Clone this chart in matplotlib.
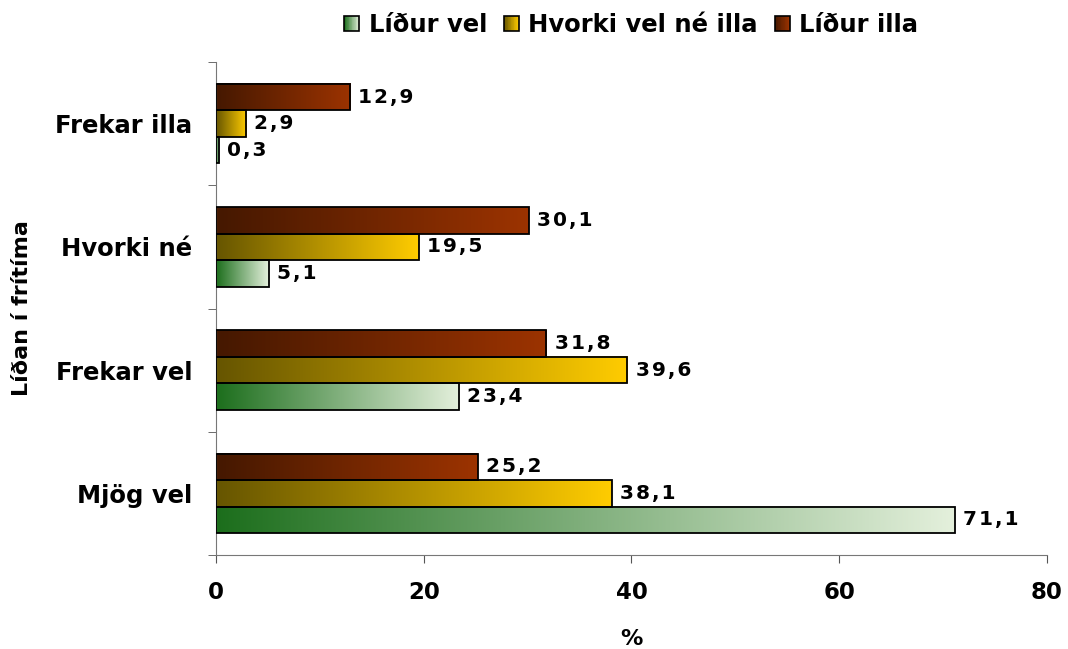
import numpy as np
import matplotlib
matplotlib.use('Agg')
import matplotlib.pyplot as plt
from matplotlib.colors import LinearSegmentedColormap
from matplotlib.patches import Rectangle
from matplotlib.legend_handler import HandlerBase

categories = ['Mjög vel', 'Frekar vel', 'Hvorki né', 'Frekar illa']
series_names = ['Líður vel', 'Hvorki vel né illa', 'Líður illa']
lidur_vel = [71.1, 23.4, 5.1, 0.3]
hvorki = [38.1, 39.6, 19.5, 2.9]
lidur_illa = [25.2, 31.8, 30.1, 12.9]

gradients = [('#1c6e1c', '#e4f0dc'), ('#665500', '#ffcc00'), ('#451800', '#9c3300')]
cmaps = [LinearSegmentedColormap.from_list('g%d' % i, g) for i, g in enumerate(gradients)]


def gradient_bar(ax, x0, width, y0, height, cmap):
  grad = np.linspace(0, 1, 256).reshape(1, -1)
  ax.imshow(grad, cmap=cmap, aspect='auto', extent=[x0, x0 + width, y0, y0 + height],
            origin='lower', zorder=2, interpolation='bilinear')
  ax.add_patch(Rectangle((x0, y0), width, height, fill=False, edgecolor='black', lw=1.3, zorder=3))


def fmt(v):
  # comma decimal, spaced out a little like the original
  return '\u200a'.join(('%.1f' % v).replace('.', ','))


class GradientHandler(HandlerBase):
  def __init__(self, cmap):
    super().__init__()
    self.cmap = cmap

  def create_artists(self, legend, orig_handle, xdescent, ydescent, width, height, fontsize, trans):
    arts = []
    size = height * 0.9
    x0 = -xdescent + (width - size) / 2
    y0 = -ydescent + (height - size) / 2
    n = 20
    for i in range(n):
      r = Rectangle((x0 + i * size / n, y0), size / n + 0.05, size, facecolor=self.cmap(i / (n - 1)),
                    edgecolor='none', transform=trans)
      arts.append(r)
    arts.append(Rectangle((x0, y0), size, size, fill=False, edgecolor='black', lw=1.2, transform=trans))
    return arts


fig = plt.figure(figsize=(10.68, 6.49), dpi=100)
ax = fig.add_axes([0.2022, 0.1448, 0.7781, 0.7597])

bar_h = 0.215
all_series = [lidur_vel, hvorki, lidur_illa]
offsets = [-bar_h, 0, bar_h]
for s, vals in enumerate(all_series):
  for i, v in enumerate(vals):
    yc = i + offsets[s]
    gradient_bar(ax, 0, v, yc - bar_h / 2, bar_h, cmaps[s])
    ax.text(v + 0.8, yc, fmt(v), va='center', ha='left', fontsize=14.5, fontweight='bold')

ax.set_xlim(0, 80)
ax.set_ylim(-0.5, 3.5)
ax.set_xticks([0, 20, 40, 60, 80])
ax.set_xticklabels(['0', '20', '40', '60', '80'], fontsize=16.5, fontweight='bold')
ax.set_yticks(range(len(categories)))
ax.set_yticklabels(categories, fontsize=17.5, fontweight='bold')
ax.set_yticks(np.arange(-0.5, 4, 1), minor=True)
ax.tick_params(axis='y', which='major', length=0, pad=17)
ax.tick_params(axis='y', which='minor', length=6, color='#555555')
ax.tick_params(axis='x', length=6, color='#555555', pad=13)
for side in ['top', 'right']:
  ax.spines[side].set_visible(False)
ax.spines['left'].set_color('#777777')
ax.spines['bottom'].set_color('#777777')

ax.set_xlabel('%', fontsize=16, fontweight='bold', labelpad=18)
ax.set_ylabel('Líðan í frítíma', fontsize=16, fontweight='bold', labelpad=17)

handles = [Rectangle((0, 0), 1, 1) for _ in series_names]
fig.legend(handles, series_names, loc='upper center', bbox_to_anchor=(0.59, 1.014), ncol=3,
           frameon=False, prop={'weight': 'bold', 'size': 17.5},
           handlelength=0.8, handletextpad=0.3, columnspacing=0.6,
           handler_map={h: GradientHandler(c) for h, c in zip(handles, cmaps)})

fig.savefig('out.png', dpi=100)
